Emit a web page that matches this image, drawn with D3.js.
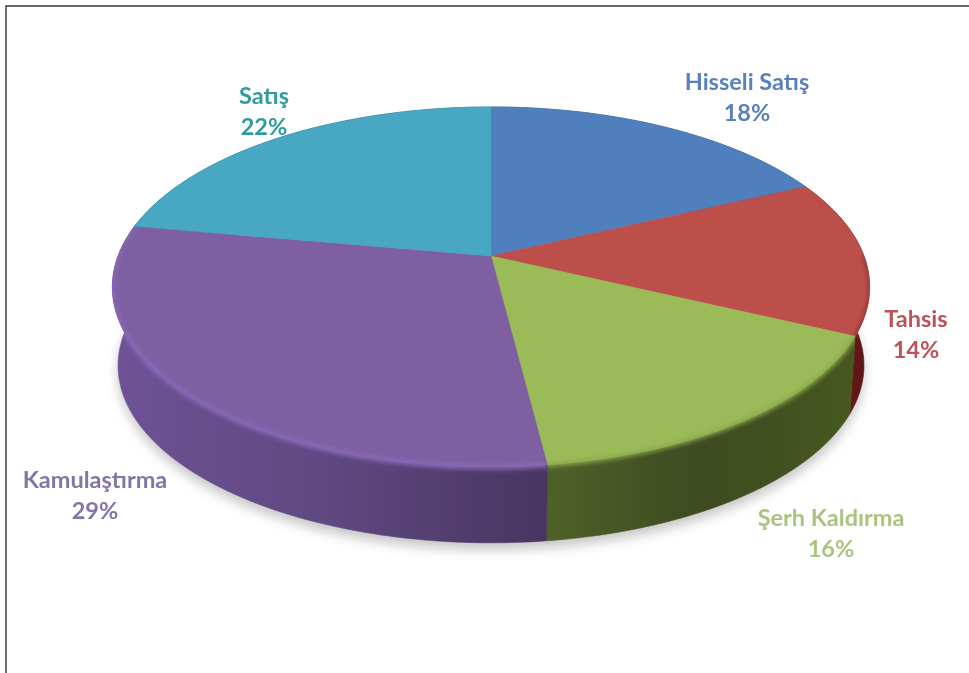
<!DOCTYPE html>
<html><head><meta charset="utf-8">
<script src="https://d3js.org/d3.v7.min.js"></script>
<style>html,body{margin:0;padding:0;background:#fff}svg{display:block}</style>
</head><body><svg id="c" width="969" height="673"></svg>
<script>
const categories=["Hisseli Satış","Tahsis","Şerh Kaldırma","Kamulaştırma","Satış"];
const values=[18,14,16,29.8,22.2];
const percentLabels=["18%","14%","16%","29%","22%"];
const faceColors=["#4f7fbc","#bd4f4b","#9bba58","#7e5fa1","#48a8c4"];
const labelColors=["#5a80bb","#bb5258","#a9c47e","#8474a8","#2f9c9e"];
const wallStops=[["#2f4f78","#2f4f78","#2f4f78"],["#7c2222","#6c1c1c","#5c1414"],["#4f6128","#3e4a21","#47581f"],["#6e5296","#5f4880","#483560"],["#1f5f74","#1f5f74","#1f5f74"]];
const rimColors=["#4f7fbc","#8f3a38","#8aa84e","#8869b8","#48a8c4"];
const labelCenters=[[747,82],[916,319],[831,518],[95,480],[264,96]];

const W=969,H=673,cx=491,apexY=256,rX=373,rY=174.7,k=-0.172,baseScale=0.985,baseDrop=79;
const svg=d3.select("#c");
const defs=svg.append("defs");
defs.append("filter").attr("id","shadow").attr("x","-20%").attr("y","-20%").attr("width","140%").attr("height","140%")
  .append("feGaussianBlur").attr("stdDeviation",6);
defs.append("filter").attr("id","rim").attr("filterUnits","userSpaceOnUse").attr("x",0).attr("y",0).attr("width",W).attr("height",H)
  .append("feGaussianBlur").attr("stdDeviation",2);
defs.append("filter").attr("id","soft").append("feGaussianBlur").attr("stdDeviation",0.55);

function project(a,base){
  const X=Math.sin(a),Y=-Math.cos(a),d=1+k*Y;
  const s=base?baseScale:1;
  return [cx+s*rX*X/d,apexY+s*rY*Y/d+(base?baseDrop:0)];
}
const arcPts=(a0,a1,base)=>{
  const n=Math.max(2,Math.ceil((a1-a0)/0.02));
  return d3.range(n+1).map(i=>project(a0+(a1-a0)*i/n,base));
};
const line=d3.line();
const arcs=d3.pie().sort(null).value(d=>d)(values);

// ground shadow
svg.append("path")
  .attr("d",line(arcPts(0,2*Math.PI,true))+"Z")
  .attr("transform","translate(0,7)")
  .attr("fill","#8f8f8f").attr("opacity",0.5).attr("filter","url(#shadow)");

// walls
const wallPaths=[];
arcs.forEach((p,i)=>{
  const top=arcPts(p.startAngle,p.endAngle,false);
  const bot=arcPts(p.startAngle,p.endAngle,true).reverse();
  const xs=top.concat(bot).map(q=>q[0]);
  const g=defs.append("linearGradient").attr("id","w"+i).attr("gradientUnits","userSpaceOnUse")
    .attr("x1",d3.min(xs)).attr("x2",d3.max(xs)).attr("y1",0).attr("y2",0);
  wallStops[i].forEach((c,j)=>g.append("stop").attr("offset",j/2).attr("stop-color",c));
  const d=line(top.concat(bot))+"Z";
  wallPaths.push(d);
  svg.append("path").attr("d",d).attr("fill",`url(#w${i})`)
    .attr("stroke",`url(#w${i})`).attr("stroke-width",0.6);
});

// small dark sliver where the teal slice meets the purple one
{
  const p=arcs[4],a=p.startAngle;
  const q0=project(a,false),q1=project(a+0.012,false);
  svg.append("path").attr("d",line([q0,q1,[q0[0]+1,q0[1]+6]])+"Z").attr("fill",wallStops[4][0]);
}

// faces
const facePaths=[];
arcs.forEach((p,i)=>{
  const pts=[[cx,apexY]].concat(arcPts(p.startAngle,p.endAngle,false));
  const d=line(pts)+"Z";
  facePaths.push(d);
  svg.append("path").attr("d",d).attr("fill",faceColors[i])
    .attr("stroke",faceColors[i]).attr("stroke-width",0.5);
});

// rim softening, kept inside the slice's own face and wall
arcs.forEach((p,i)=>{
  if(i===0||i===4) return;
  defs.append("clipPath").attr("id","clip"+i).append("path").attr("d",facePaths[i]+wallPaths[i]);
  const a0=i===3?p.startAngle:Math.max(p.startAngle,Math.PI*0.5);
  svg.append("g").attr("clip-path",`url(#clip${i})`)
    .append("path").attr("d",line(arcPts(a0,p.endAngle,false))).attr("fill","none")
    .attr("stroke",rimColors[i]).attr("stroke-width",i===3?5:4)
    .attr("filter","url(#rim)");
});

// labels
const lab=svg.append("g").attr("font-family","Lato, 'Open Sans', sans-serif").attr("font-weight",700)
  .attr("font-size",23.5).attr("text-anchor","middle").attr("filter","url(#soft)");
categories.forEach((c,i)=>{
  const [x,y]=labelCenters[i];
  const t=lab.append("text").attr("fill",labelColors[i]);
  t.append("tspan").attr("x",x).attr("y",y+8).text(c);
  t.append("tspan").attr("x",x).attr("y",y+39).text(percentLabels[i]);
});

// frame
svg.append("path").attr("d",line([[6,H],[6,6],[W,6]])).attr("fill","none").attr("stroke","#333").attr("stroke-width",1.4);
</script></body></html>
